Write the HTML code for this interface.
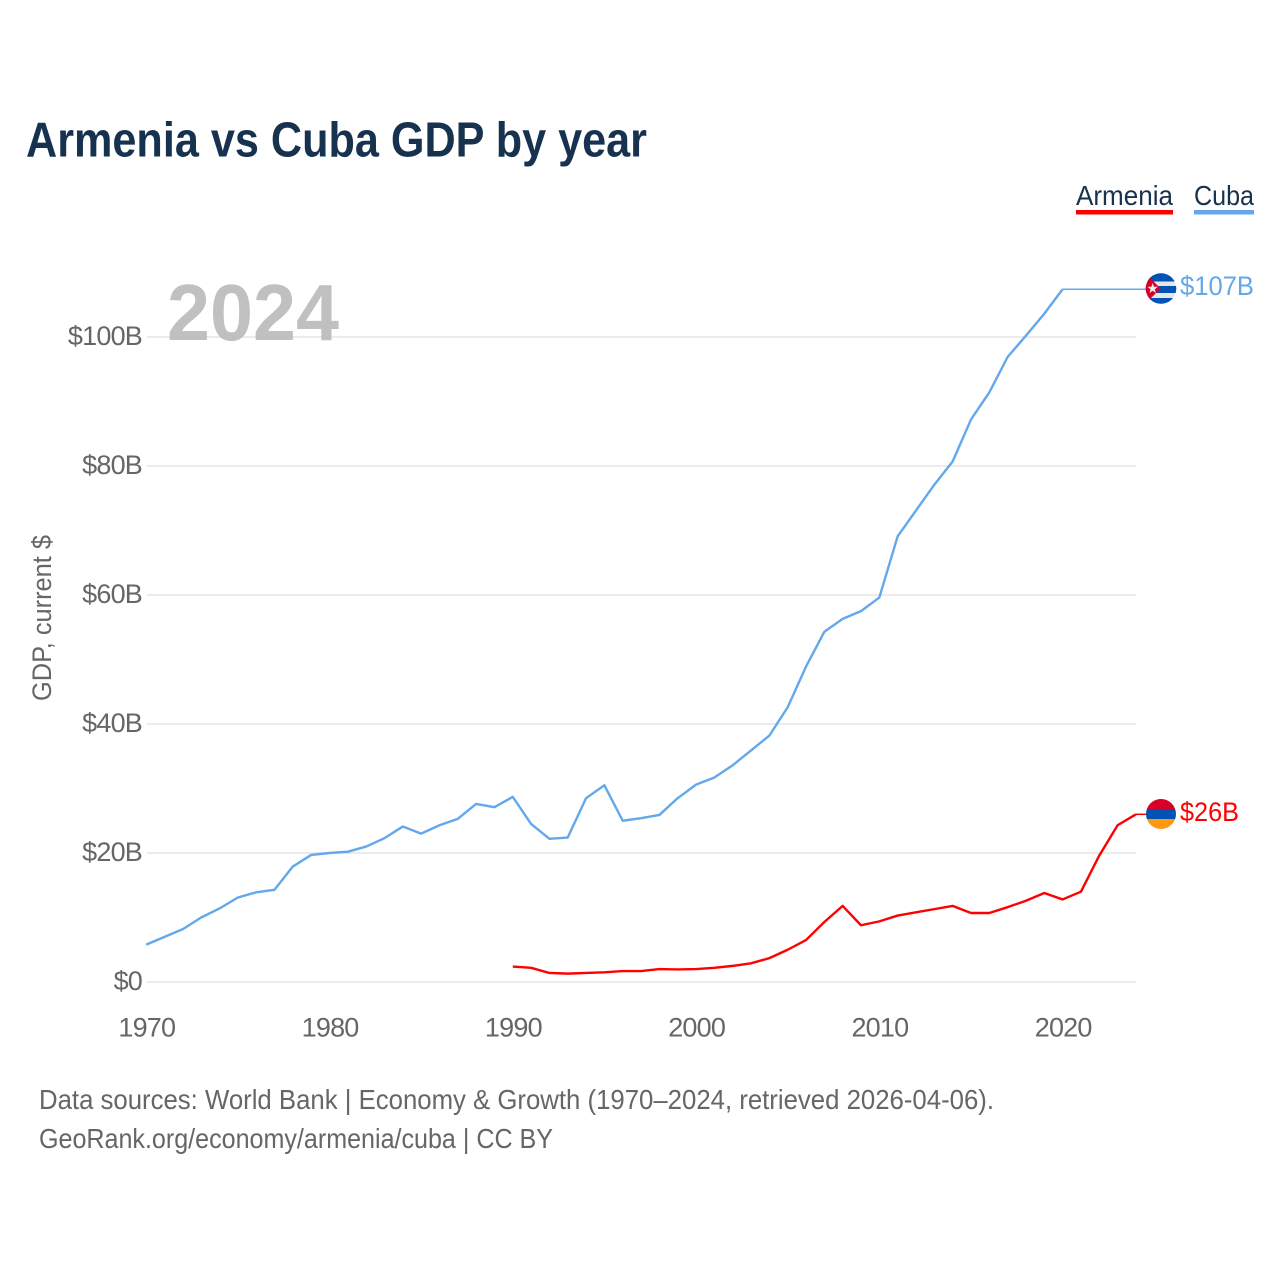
<!DOCTYPE html>
<html lang="en">
<head>
<meta charset="utf-8">
<title>Armenia vs Cuba GDP by year</title>
<style>
html,body{margin:0;padding:0;background:#fff;}
svg{display:block;font-family:"Liberation Sans",sans-serif;}
</style>
</head>
<body>
<svg id="chart" xmlns="http://www.w3.org/2000/svg" width="1280" height="1280" viewBox="0 0 1280 1280">
  <rect x="0" y="0" width="1280" height="1280" fill="#ffffff"/>
  <text x="26" y="156.5" font-size="49" font-weight="700" fill="#17324f" textLength="621" lengthAdjust="spacingAndGlyphs">Armenia vs Cuba GDP by year</text>

  <g id="grid"></g>
  <text x="167" y="340" font-size="80" font-weight="700" fill="#bdbdbd" fill-opacity="0.95" textLength="172" lengthAdjust="spacingAndGlyphs">2024</text>
  <g id="yticks"></g>
  <g id="xticks"></g>
  <text transform="translate(51,701) rotate(-90)" x="0" y="0" font-size="27" fill="#666666" textLength="166" lengthAdjust="spacingAndGlyphs">GDP, current $</text>

  <g id="series"></g>

  <g>
    <text x="1076" y="205" font-size="28" fill="#17324f" textLength="97" lengthAdjust="spacingAndGlyphs">Armenia</text>
    <rect x="1076" y="210" width="97" height="4.5" fill="#ff0000"/>
  </g>
  <g>
    <text x="1194" y="205" font-size="28" fill="#17324f" textLength="60" lengthAdjust="spacingAndGlyphs">Cuba</text>
    <rect x="1194" y="210" width="60" height="4.5" fill="#63a8ec"/>
  </g>

  <defs>
    <clipPath id="cubaClip"><circle cx="1161" cy="288.5" r="15.3"/></clipPath>
    <clipPath id="armeniaClip"><circle cx="1161" cy="814" r="15"/></clipPath>
  </defs>
  <g id="flagCuba" clip-path="url(#cubaClip)">
    <rect x="1145" y="273" width="32" height="32" fill="#e6e6e6"/>
    <rect x="1145" y="273" width="32" height="8.5" fill="#0052b4"/>
    <rect x="1145" y="286" width="32" height="7" fill="#0052b4"/>
    <rect x="1145" y="298" width="32" height="7" fill="#0052b4"/>
    <polygon points="1145,273 1160.6,288.5 1145,304" fill="#d80027"/>
    <polygon points="1152.7,283 1154,286.7 1157.9,286.8 1154.8,289.2 1155.9,293 1152.7,290.8 1149.5,293 1150.6,289.2 1147.5,286.8 1151.4,286.7" fill="#eeeeee"/>
  </g>
  <text x="1180" y="295" font-size="27" fill="#63a8ec" textLength="74" lengthAdjust="spacingAndGlyphs">$107B</text>

  <g id="flagArmenia" clip-path="url(#armeniaClip)">
    <rect x="1146" y="799" width="30" height="10" fill="#d80027"/>
    <rect x="1146" y="809" width="30" height="10" fill="#0052b4"/>
    <rect x="1146" y="819" width="30" height="10" fill="#ff9811"/>
  </g>
  <text x="1180" y="821" font-size="27" fill="#ff0000" textLength="59" lengthAdjust="spacingAndGlyphs">$26B</text>

  <text x="39" y="1109" font-size="28" fill="#666666" textLength="955" lengthAdjust="spacingAndGlyphs">Data sources: World Bank | Economy &amp; Growth (1970–2024, retrieved 2026-04-06).</text>
  <text x="39" y="1148" font-size="28" fill="#666666" textLength="514" lengthAdjust="spacingAndGlyphs">GeoRank.org/economy/armenia/cuba | CC BY</text>
</svg>

<script>
const cubaStartYear = 1970;
const armeniaStartYear = 1990;
const cubaValues = [5.8,7.0,8.2,10.0,11.4,13.1,13.9,14.3,17.9,19.7,20.0,20.2,21.0,22.3,24.1,23.0,24.3,25.3,27.6,27.1,28.7,24.5,22.2,22.4,28.5,30.5,25.0,25.4,25.9,28.5,30.6,31.7,33.6,35.9,38.2,42.6,48.9,54.3,56.3,57.5,59.6,69.1,73.1,77.1,80.7,87.2,91.4,96.9,100.2,103.6,107.4];
const armeniaValues = [2.4,2.2,1.4,1.3,1.4,1.5,1.7,1.7,2.0,1.95,2.0,2.2,2.5,2.9,3.7,5.0,6.5,9.3,11.8,8.8,9.4,10.3,10.8,11.3,11.8,10.7,10.7,11.6,12.6,13.8,12.8,14.0,19.6,24.3,26.0];
const yTickValues = [0,20,40,60,80,100];
const yTickLabels = ["$0","$20B","$40B","$60B","$80B","$100B"];
const xTickValues = [1970,1980,1990,2000,2010,2020];
const xTickLabels = ["1970","1980","1990","2000","2010","2020"];
const NS = "http://www.w3.org/2000/svg";

function xScale(year){ return 146.2 + (year - 1970) * (1062.6 - 146.2) / 50; }
function yScale(value){ return 982 - value * (982 - 337) / 100; }

function make(tag, attrs, parent){
  const el = document.createElementNS(NS, tag);
  for (const k in attrs) el.setAttribute(k, attrs[k]);
  parent.appendChild(el);
  return el;
}

const grid = document.getElementById("grid");
const yticks = document.getElementById("yticks");
const xticks = document.getElementById("xticks");
const series = document.getElementById("series");

yTickValues.forEach(function(v, i){
  const line = make("line", {x1:147, x2:1136, y1:yScale(v), y2:yScale(v), stroke:"#ebebeb", "stroke-width":2}, grid);
  
  
  const t = make("text", {x:142, y:yScale(v)+8, "text-anchor":"end", "font-size":27, fill:"#666666", "letter-spacing":"-0.8"}, yticks);
  t.textContent = yTickLabels[i];
  
  
});

xTickValues.forEach(function(v, i){
  const t = make("text", {x:xScale(v)+0.6, y:1036.5, "text-anchor":"middle", "font-size":27, fill:"#666666", "letter-spacing":"-0.8"}, xticks);
  t.textContent = xTickLabels[i];
  
  
});

function pathFrom(values, startYear){
  return values.map(function(v, i){
    return (i ? "L" : "M") + xScale(startYear + i).toFixed(2) + " " + yScale(v).toFixed(2);
  }).join(" ");
}

const cubaLastYear = cubaStartYear + cubaValues.length - 1;
const cubaLastValue = cubaValues[cubaValues.length - 1];
const armeniaLastYear = armeniaStartYear + armeniaValues.length - 1;
const armeniaLastValue = armeniaValues[armeniaValues.length - 1];

const cubaLine = make("path", {d:pathFrom(cubaValues, cubaStartYear), fill:"none", stroke:"#63a8ec", "stroke-width":2.4, "stroke-linejoin":"round"}, series);



const cubaExt = make("line", {x1:xScale(cubaLastYear), y1:yScale(cubaLastValue), x2:1150, y2:yScale(cubaLastValue), stroke:"#63a8ec", "stroke-width":1.5}, series);



const armeniaLine = make("path", {d:pathFrom(armeniaValues, armeniaStartYear), fill:"none", stroke:"#ff0000", "stroke-width":2.4, "stroke-linejoin":"round"}, series);



const armeniaExt = make("line", {x1:xScale(armeniaLastYear), y1:yScale(armeniaLastValue), x2:1150, y2:yScale(armeniaLastValue), stroke:"#ff0000", "stroke-width":1.5}, series);


</script>
</body>
</html>
